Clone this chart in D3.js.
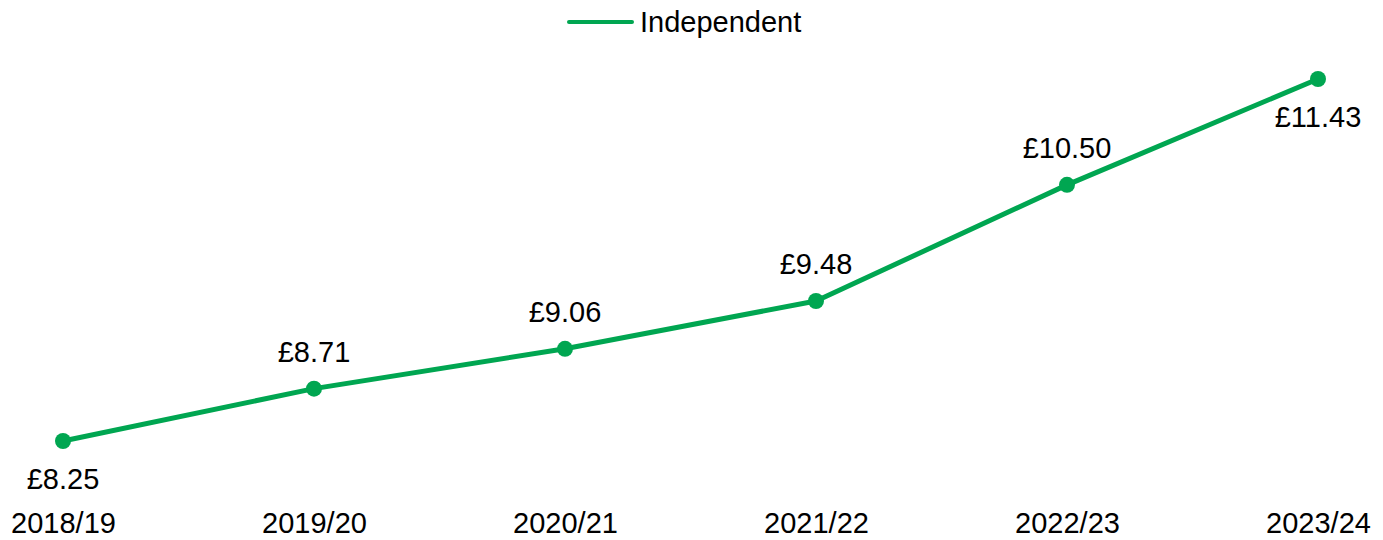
<!DOCTYPE html>
<html lang="en">
<head>
  <meta charset="UTF-8">
  <title>Independent</title>
  <style>
    body{ margin: 0; background: #fff; }
    text{ font-family: "Liberation Sans", Arial, sans-serif; fill: #000; }
    .line{ fill: none; stroke: #00a651; stroke-width: 5px; stroke-linejoin: round; }
    .dot{ fill: #00a651; }
  </style>
</head>
<body>
  <script src="https://cdn.jsdelivr.net/npm/d3@7"></script>
  <script>
    const years = ['2018/19', '2019/20', '2020/21', '2021/22', '2022/23', '2023/24'];
    const values = [8.25, 8.71, 9.06, 9.48, 10.50, 11.43];
    const labelBelow = [true, false, false, false, false, true];
    const seriesName = 'Independent';

    const width = 1383, height = 540, fontSize = 29;
    const data = years.map((y, i) => ({ year: y, value: values[i], below: labelBelow[i] }));

    const x = d3.scalePoint().domain(years).range([63, 1318]);
    const y = d3.scaleLinear().domain([8.25, 11.43]).range([441, 79]);

    const svg = d3.select('body').append('svg')
      .attr('width', width).attr('height', height);

    // x axis labels only, no line or ticks
    const axis = d3.axisBottom(x).tickSize(0).tickPadding(0);
    const gx = svg.append('g').attr('transform', 'translate(0,533)').call(axis);
    gx.select('.domain').remove();
    gx.selectAll('text')
      .attr('dy', 0)
      .attr('y', 0)
      .style('font-size', fontSize + 'px')
      .style('font-family', '"Liberation Sans", Arial, sans-serif')
      .attr('fill', '#000');

    const line = d3.line().x(d => x(d.year)).y(d => y(d.value));
    svg.append('path').datum(data).attr('class', 'line').attr('d', line);

    svg.selectAll('circle.dot').data(data).enter().append('circle')
      .attr('class', 'dot')
      .attr('cx', d => x(d.year))
      .attr('cy', d => y(d.value))
      .attr('r', 8);

    svg.selectAll('text.val').data(data).enter().append('text')
      .attr('class', 'val')
      .attr('x', d => x(d.year))
      .attr('y', d => y(d.value) + (d.below ? 48 : -27))
      .attr('text-anchor', 'middle')
      .style('font-size', fontSize + 'px')
      .text(d => '£' + d.value.toFixed(2));

    // legend
    const lg = svg.append('g');
    lg.append('line')
      .attr('x1', 569).attr('x2', 632).attr('y1', 22).attr('y2', 22)
      .attr('stroke', '#00a651').attr('stroke-width', 4).attr('stroke-linecap', 'round');
    lg.append('text')
      .attr('x', 640).attr('y', 32)
      .style('font-size', fontSize + 'px')
      .text(seriesName);
  </script>
</body>
</html>
